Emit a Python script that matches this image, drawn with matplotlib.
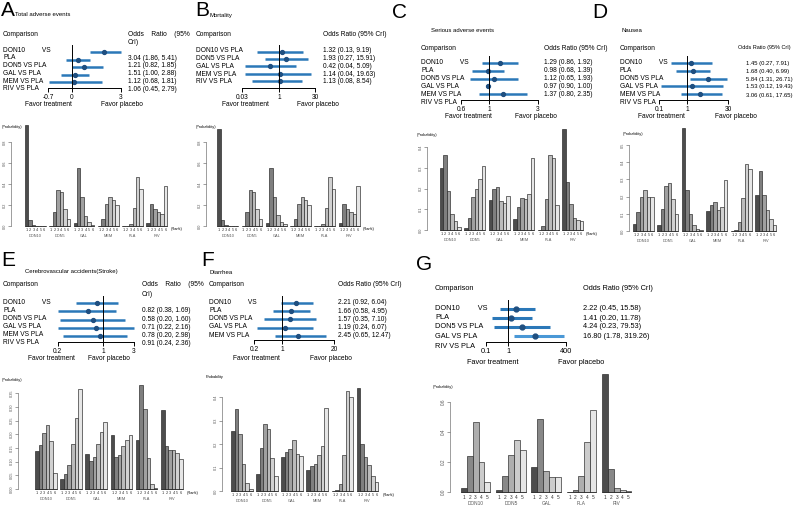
import numpy as np
import matplotlib
matplotlib.use("Agg")
import matplotlib.pyplot as plt

plt.rcParams['font.family'] = ['Liberation Sans', 'DejaVu Sans']

W, H = 793, 505
fig = plt.figure(figsize=(W / 100, H / 100), dpi=100)

# ---------------- data ----------------
groups6 = ["DON10", "DON5", "GAL", "MEM", "PLA", "RIV"]
groups5 = ["DON10", "DON5", "GAL", "PLA", "RIV"]

labels_split6 = ["DON10         VS", "PLA", "DON5 VS PLA", "GAL VS PLA", "MEM VS PLA", "RIV VS PLA"]
labels_b = ["DON10 VS PLA", "DON5 VS PLA", "GAL VS PLA", "MEM VS PLA", "RIV VS PLA"]
labels_f = ["DON10         VS", "PLA", "DON5 VS PLA", "GAL VS PLA", "MEM VS PLA"]
labels_g = ["DON10         VS", "PLA", "DON5 VS PLA", "GAL VS PLA", "RIV VS PLA"]

# A: Total adverse events
a_or = [3.04, 1.21, 1.51, 1.12, 1.06]
a_lo = [1.86, 0.82, 1.00, 0.68, 0.45]
a_hi = [5.41, 1.85, 2.88, 1.81, 2.79]
a_ticks = [0.437, 1.0, 5.42]
a_tick_labels = ["-0.7", "0", "3"]
a_rank = [[0.96, 0.056, 0.01, 0.003, 0.0, 0.0],
          [0.002, 0.13, 0.34, 0.32, 0.16, 0.07],
          [0.03, 0.55, 0.275, 0.10, 0.04, 0.01],
          [0.003, 0.07, 0.21, 0.28, 0.25, 0.20],
          [0.0, 0.0, 0.02, 0.175, 0.47, 0.35],
          [0.025, 0.205, 0.16, 0.13, 0.11, 0.385]]

# B: Mortality
b_or = [1.32, 1.93, 0.42, 1.14, 1.13]
b_lo = [0.13, 0.27, 0.04, 0.04, 0.08]
b_hi = [9.19, 15.91, 5.09, 19.63, 8.54]
b_ticks = [0.03, 1.0, 30.0]
b_tick_labels = ["0.03", "1", "30"]
b_rank = [[0.92, 0.056, 0.01, 0.003, 0.0, 0.0],
          [0.002, 0.13, 0.34, 0.32, 0.16, 0.07],
          [0.03, 0.55, 0.275, 0.105, 0.04, 0.015],
          [0.003, 0.07, 0.21, 0.28, 0.25, 0.20],
          [0.0, 0.0, 0.02, 0.175, 0.47, 0.35],
          [0.025, 0.205, 0.16, 0.13, 0.11, 0.385]]

# C: Serious adverse events
c_or = [1.29, 0.98, 1.12, 0.97, 1.37]
c_lo = [0.86, 0.68, 0.65, 0.93, 0.80]
c_hi = [1.92, 1.39, 1.93, 1.00, 2.35]
c_text = ["1.29 (0.86, 1.92)", "0.98 (0.68, 1.39)", "1.12 (0.65, 1.93)",
          "0.97 (0.90, 1.00)", "1.37 (0.80, 2.35)"]
c_ticks = [0.534, 1.0, 3.0]
c_tick_labels = ["0.6", "1", "3"]
c_rank = [[0.30, 0.36, 0.19, 0.077, 0.044, 0.015],
          [0.01, 0.06, 0.16, 0.20, 0.245, 0.31],
          [0.145, 0.20, 0.21, 0.14, 0.13, 0.165],
          [0.053, 0.11, 0.155, 0.15, 0.175, 0.35],
          [0.0, 0.02, 0.15, 0.36, 0.35, 0.12],
          [0.49, 0.23, 0.125, 0.06, 0.048, 0.045]]

# D: Nausea
d_or = [1.45, 1.68, 5.84, 1.53, 3.06]
d_lo = [0.27, 0.40, 1.31, 0.12, 0.61]
d_hi = [7.91, 6.99, 26.71, 19.43, 17.65]
d_ticks = [0.1, 1.0, 30.0]
d_tick_labels = ["0.1", "1", "30"]
d_rank = [[0.04, 0.11, 0.20, 0.24, 0.20, 0.195],
          [0.035, 0.13, 0.26, 0.28, 0.185, 0.10],
          [0.60, 0.24, 0.10, 0.037, 0.014, 0.006],
          [0.115, 0.15, 0.17, 0.125, 0.14, 0.295],
          [0.0, 0.006, 0.05, 0.19, 0.39, 0.36],
          [0.21, 0.35, 0.21, 0.12, 0.07, 0.037]]

# E: Cerebrovascular accidents (Stroke)
e_or = [0.82, 0.58, 0.71, 0.78, 0.91]
e_lo = [0.38, 0.20, 0.22, 0.20, 0.24]
e_hi = [1.69, 1.60, 2.16, 2.98, 2.36]
e_ticks = [0.2, 1.0, 3.0]
e_tick_labels = ["0.2", "1", "3"]
e_rank = [[0.137, 0.162, 0.204, 0.234, 0.176, 0.057],
          [0.037, 0.054, 0.087, 0.163, 0.259, 0.365],
          [0.127, 0.102, 0.118, 0.165, 0.209, 0.246],
          [0.198, 0.116, 0.124, 0.157, 0.178, 0.196],
          [0.178, 0.378, 0.291, 0.112, 0.018, 0.005],
          [0.289, 0.157, 0.143, 0.143, 0.13, 0.109]]

# F: Diarrhea
f_or = [2.21, 1.66, 1.57, 1.19, 2.45]
f_lo = [0.92, 0.58, 0.35, 0.24, 0.65]
f_hi = [6.04, 4.95, 7.10, 6.07, 12.47]
f_ticks = [0.2, 1.0, 20.0]
f_tick_labels = ["0.2", "1", "20"]
f_rank = [[0.254, 0.35, 0.244, 0.113, 0.035, 0.01],
          [0.071, 0.183, 0.284, 0.262, 0.14, 0.062],
          [0.145, 0.165, 0.177, 0.216, 0.156, 0.148],
          [0.091, 0.105, 0.116, 0.155, 0.19, 0.353],
          [0.002, 0.006, 0.031, 0.152, 0.424, 0.40],
          [0.44, 0.20, 0.145, 0.112, 0.062, 0.038]]

# G
g_or = [2.22, 1.41, 4.24, 16.80]
g_lo = [0.45, 0.20, 0.23, 1.78]
g_hi = [15.58, 11.78, 79.53, 319.26]
g_ticks = [0.1, 1.0, 400.0]
g_tick_labels = ["0.1", "1", "400"]
g_rank = [[0.03, 0.24, 0.47, 0.20, 0.067],
          [0.016, 0.11, 0.25, 0.35, 0.28],
          [0.165, 0.487, 0.142, 0.10, 0.10],
          [0.0, 0.011, 0.11, 0.335, 0.547],
          [0.79, 0.155, 0.03, 0.015, 0.006]]

BLUE = "#2b78b8"
DOT = "#1f4f80"


def ax_px(l, t, r, b):
    return fig.add_axes([l / W, 1 - b / H, (r - l) / W, (b - t) / H])


def txt(x, y, s, size=4.8, **kw):
    kw.setdefault('va', 'center')
    kw.setdefault('ha', 'left')
    fig.text(x / W, 1 - y / H, s, fontsize=size, **kw)


def or_strings(o, lo, hi):
    return ["%.2f (%.2f, %.2f)" % v for v in zip(o, lo, hi)]


def forest(l, r, top, axis_y, row0, step, ors, los, his, px_one, k,
           ticks, tick_labels, fs=4.8, lw=1.8, ms=2.8, colors=None):
    ax = ax_px(l, top, r, axis_y)
    ax.set_xscale('log')
    ax.set_xlim(np.exp((l - px_one) / k), np.exp((r - px_one) / k))
    ax.set_ylim((axis_y - row0) / step, (top - row0) / step)
    for i, (o, lo, hi) in enumerate(zip(ors, los, his)):
        c = BLUE if colors is None else colors[i]
        ax.plot([lo, hi], [i, i], color=c, lw=lw, solid_capstyle='butt')
        ax.plot([o], [i], 'o', ms=ms, color=DOT, mec=DOT)
    ax.axvline(1.0, color='black', lw=0.7)
    for s in ['top', 'right', 'left']:
        ax.spines[s].set_visible(False)
    ax.spines['bottom'].set_bounds(ticks[0], ticks[-1])
    ax.spines['bottom'].set_linewidth(0.7)
    ax.set_xticks(ticks)
    ax.set_xticklabels(tick_labels)
    ax.xaxis.set_minor_locator(matplotlib.ticker.NullLocator())
    ax.tick_params(axis='x', length=3, width=0.7, labelsize=fs, pad=1.5)
    ax.set_yticks([])
    ax.patch.set_alpha(0)
    return ax


def gray_cols(n):
    v = np.linspace(0.3 ** 2.2, 0.9 ** 2.2, n) ** (1 / 2.2)
    return [(g, g, g) for g in v]


def bars(yaxis_px, r_px, top_px, zero_px, unit0_px, ppu, ppv, data, groups,
         yticks, ylabels, fs=2.8, num_off=1.2, name_off=5.5):
    n = len(data[0])
    ax = ax_px(yaxis_px, top_px, r_px, zero_px)
    ax.set_xlim((yaxis_px - unit0_px) / ppu, (r_px - unit0_px) / ppu)
    ax.set_ylim(0, (zero_px - top_px) / ppv)
    cols = gray_cols(n)
    for g, vals in enumerate(data):
        base = g * (n + 1) + 1
        xs = base + np.arange(n) + 0.5
        ax.bar(xs, vals, width=1.0, color=cols, edgecolor='#222222',
               linewidth=0.45, clip_on=False)
        ax.plot([base, base + n], [0, 0], color='#222222', lw=0.45, clip_on=False)
        for j, x in enumerate(xs):
            ax.annotate(str(j + 1), (x, 0), xytext=(0, -num_off),
                        textcoords='offset points', ha='center', va='top',
                        fontsize=fs, color='#333333')
        ax.annotate(groups[g], (base + n / 2, 0), xytext=(0, -name_off),
                    textcoords='offset points', ha='center', va='top',
                    fontsize=fs, color='#555555')
    for s in ['top', 'right', 'bottom']:
        ax.spines[s].set_visible(False)
    ax.spines['left'].set_bounds(yticks[0], yticks[-1])
    ax.spines['left'].set_linewidth(0.4)
    ax.spines['left'].set_color('#555555')
    ax.set_yticks(yticks)
    ax.set_yticklabels(ylabels, rotation=90, va='center', fontsize=fs, color='#555555')
    ax.tick_params(axis='y', length=2, width=0.4, pad=1, color='#555555')
    ax.set_xticks([])
    ax.patch.set_alpha(0)
    return ax


LETTER = 15
SM = 2.8
FS = 4.8

# ================= Panel A =================
txt(1, 11, "A", LETTER)
txt(15, 15, "Total adverse events", 4.3)
txt(3, 34, "Comparison", FS)
txt(128, 34, "Odds    Ratio    (95%", FS)
txt(128, 42, "CrI)", FS)
for i, s in enumerate(labels_split6):
    txt(3, 50 + i * 7.8, s, FS)
for i, s in enumerate(or_strings(a_or, a_lo, a_hi)):
    txt(128, 58 + i * 7.8, s, FS)
forest(44, 126, 45, 88, 52, 7.6, a_or, a_lo, a_hi, 72, 29.0, a_ticks, a_tick_labels)
txt(25, 104, "Favor treatment", FS)
txt(101, 104, "Favor placebo", FS)
txt(2, 127, "(Probability)", SM)
bars(11, 190, 118, 226, 21.5, 3.47, 105, a_rank, groups6,
     [0, 0.2, 0.4, 0.6, 0.8], ["0.0", "0.2", "0.4", "0.6", "0.8"])
txt(171, 229, "(Rank)", SM)

# ================= Panel B =================
txt(195, 11, "B", LETTER)
txt(209, 15, "Mortality", 4.3)
txt(196, 34, "Comparison", FS)
txt(323, 34, "Odds Ratio (95% CrI)", FS)
for i, s in enumerate(labels_b):
    txt(196, 51 + i * 7.7, s, FS)
for i, s in enumerate(or_strings(b_or, b_lo, b_hi)):
    txt(323, 51 + i * 7.7, s, FS)
forest(236, 320, 45, 88, 51.5, 7.5, b_or, b_lo, b_hi, 279, 10.6, b_ticks, b_tick_labels)
txt(222, 104, "Favor treatment", FS)
txt(297, 104, "Favor placebo", FS)
txt(196, 127, "(Probability)", SM)
bars(206, 385, 118, 226, 213.8, 3.47, 105, b_rank, groups6,
     [0, 0.2, 0.4, 0.6, 0.8], ["0.0", "0.2", "0.4", "0.6", "0.8"])
txt(363, 229, "(Rank)", SM)

# ================= Panel C =================
txt(392, 12, "C", LETTER)
txt(431, 30, "Serious adverse events", 4.3)
txt(421, 48, "Comparison", FS)
txt(544, 48, "Odds Ratio (95% CrI)", FS)
for i, s in enumerate(labels_split6):
    txt(421, 63 + i * 8, s, FS)
for i, s in enumerate(c_text):
    txt(544, 63 + i * 8, s, FS)
forest(455, 540, 56, 99.5, 63, 7.8, c_or, c_lo, c_hi, 489, 44.6, c_ticks, c_tick_labels)
txt(445, 117, "Favor treatment", FS)
txt(515, 117, "Favor placebo", FS)
txt(417, 135, "(Probability)", SM)
bars(427, 586, 125, 230, 436.5, 3.49, 207, c_rank, groups6,
     [0, 0.1, 0.2, 0.3, 0.4], ["0.0", "0.1", "0.2", "0.3", "0.4"])
txt(586, 234, "(Rank)", SM)

# ================= Panel D =================
DS = 4.2
txt(592, 12, "D", LETTER)
txt(622, 30, "Nausea", 4.3)
txt(620, 48, "Comparison", FS)
txt(791, 48, "Odds Ratio (95% CrI)", 4.0, ha='right')
for i, s in enumerate(labels_split6):
    txt(620, 63 + i * 8, s, FS)
for i, s in enumerate(or_strings(d_or, d_lo, d_hi)):
    txt(746, 63 + i * 8, s, DS)
forest(650, 734, 56, 99.5, 63, 7.8, d_or, d_lo, d_hi, 687, 12.06, d_ticks, d_tick_labels)
txt(638, 117, "Favor treatment", FS)
txt(715, 117, "Favor placebo", FS)
txt(623, 134, "(Probability)", SM)
bars(629, 792, 125, 231, 629.5, 3.49, 172, d_rank, groups6,
     [0, 0.1, 0.2, 0.3, 0.4, 0.5], ["0.0", "0.1", "0.2", "0.3", "0.4", "0.5"])

# ================= Panel E =================
txt(1, 260, "E", LETTER)
txt(25, 272, "Cerebrovascular accidents(Stroke)", 4.3)
txt(3, 285, "Comparison", FS)
txt(142, 285, "Odds    Ratio    (95%", FS)
txt(142, 294, "CrI)", FS)
for i, s in enumerate(labels_split6):
    txt(3, 302 + i * 8.2, s, FS)
for i, s in enumerate(or_strings(e_or, e_lo, e_hi)):
    txt(142, 311 + i * 8.2, s, FS)
forest(54, 138, 296, 342, 303, 8.3, e_or, e_lo, e_hi, 103, 28.2, e_ticks, e_tick_labels)
txt(28, 358, "Favor treatment", FS)
txt(88, 358, "Favor placebo", FS)
txt(2, 380, "(Probability)", SM)
bars(18, 200, 380, 489, 31.4, 3.6, 274, e_rank, groups6,
     [0, 0.05, 0.10, 0.15, 0.20, 0.25, 0.30, 0.35],
     ["0.00", "0.05", "0.10", "0.15", "0.20", "0.25", "0.30", "0.35"])
txt(187, 493, "(Rank)", SM)

# ================= Panel F =================
txt(201, 261, "F", LETTER)
txt(209, 273, "Diarrhea", 4.3)
txt(209, 285, "Comparison", FS)
txt(338, 285, "Odds Ratio (95% CrI)", FS)
for i, s in enumerate(labels_f):
    txt(209, 302 + i * 8.3, s, FS)
for i, s in enumerate(or_strings(f_or, f_lo, f_hi)):
    txt(338, 303 + i * 8.2, s, FS)
forest(250, 336, 296, 340, 303, 8.2, f_or, f_lo, f_hi, 282, 17.4, f_ticks, f_tick_labels)
txt(233, 358, "Favor treatment", FS)
txt(310, 358, "Favor placebo", FS)
txt(206, 377, "Probability", SM)
bars(222, 395, 380, 491, 227.4, 3.59, 235, f_rank, groups6,
     [0, 0.1, 0.2, 0.3, 0.4], ["0.0", "0.1", "0.2", "0.3", "0.4"])
txt(383, 495, "(Rank)", SM)

# ================= Panel G =================
GS = 5.3
txt(416, 265, "G", LETTER)
txt(435, 288, "Comparison", GS)
txt(583, 288, "Odds Ratio (95% CrI)", GS)
for i, s in enumerate(labels_g):
    txt(435, 308 + i * 9.5, s, GS)
for i, s in enumerate(or_strings(g_or, g_lo, g_hi)):
    txt(583, 309 + i * 9.0, s, GS)
forest(480, 575, 300, 342, 309, 9.0, g_or, g_lo, g_hi, 508, 9.68, g_ticks, g_tick_labels,
       fs=GS, lw=2.2, ms=3.5,
       colors=[BLUE, BLUE, BLUE, "#4a98d6"])
txt(467, 362, "Favor treatment", GS)
txt(558, 362, "Favor placebo", GS)
txt(433, 387, "(Probability)", SM)
bars(450, 640, 370, 492, 455, 5.88, 150, g_rank, groups5,
     [0, 0.2, 0.4, 0.6], ["0.0", "0.2", "0.4", "0.6"], fs=3.4, num_off=2.0, name_off=6.5)

fig.savefig("out.png", dpi=100)
